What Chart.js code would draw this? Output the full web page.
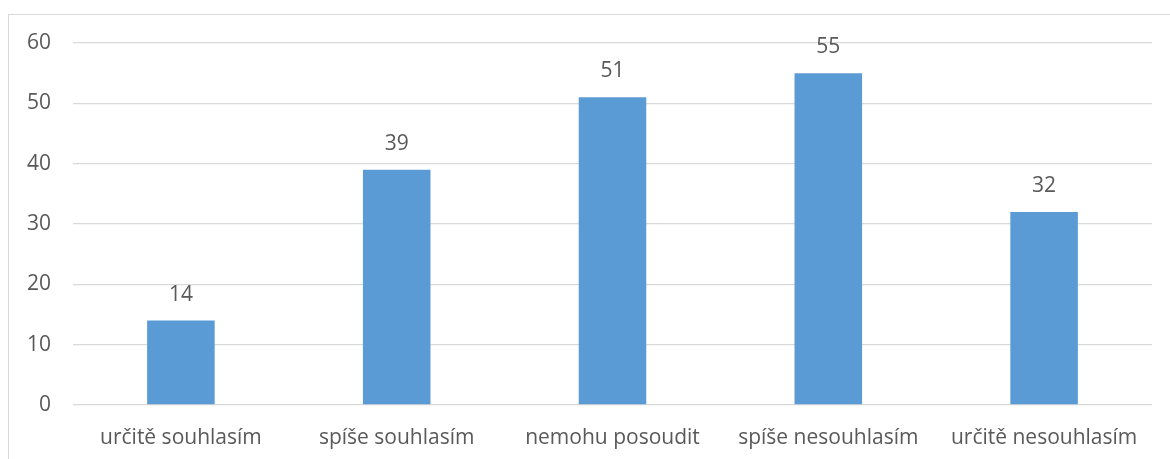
<!DOCTYPE html>
<html>
<head>
<meta charset="utf-8">
<script src="https://cdn.jsdelivr.net/npm/chart.js@4.4.1/dist/chart.umd.min.js"></script>
<style>
  html, body { margin: 0; padding: 0; background: #fff; }
  #wrap { position: relative; width: 1170px; height: 459px; overflow: hidden; }
  #frame { position: absolute; left: 8px; top: 14px; width: 1200px; height: 500px; border: 1px solid #d9d9d9; box-sizing: border-box; }
  canvas { position: absolute; left: 0; top: 0; }
</style>
</head>
<body>
<div id="wrap">
  <div id="frame"></div>
  <canvas id="c" width="1170" height="459"></canvas>
</div>
<script>
const categories = ["určitě souhlasím", "spíše souhlasím", "nemohu posoudit", "spíše nesouhlasím", "určitě nesouhlasím"];
const values = [14, 39, 51, 55, 32];
const yTicks = [0, 10, 20, 30, 40, 50, 60];

const FONT = "'Open Sans', 'Noto Sans', sans-serif";
const TEXT = "#595959";

const valueLabels = {
  id: 'valueLabels',
  afterDatasetsDraw(chart) {
    const ctx = chart.ctx;
    const meta = chart.getDatasetMeta(0);
    ctx.save();
    ctx.font = "21px " + FONT;
    ctx.fillStyle = TEXT;
    ctx.textAlign = 'center';
    ctx.textBaseline = 'middle';
    meta.data.forEach((bar, i) => {
      ctx.fillText(String(values[i]), bar.x, bar.y - 26);
    });
    ctx.restore();
  }
};

new Chart(document.getElementById('c'), {
  type: 'bar',
  data: {
    labels: categories,
    datasets: [{
      data: values,
      backgroundColor: '#5b9bd5',
      borderWidth: 0,
      categoryPercentage: 1,
      barPercentage: 0.313
    }]
  },
  options: {
    responsive: false,
    animation: false,
    devicePixelRatio: 1,
    layout: { padding: { left: 0, right: 18, top: 43, bottom: 0 } },
    plugins: { legend: { display: false }, tooltip: { enabled: false } },
    scales: {
      x: {
        grid: { display: false, drawTicks: false },
        border: { display: false },
        ticks: { color: TEXT, font: { family: FONT, size: 21 }, padding: 20, maxRotation: 0, autoSkip: false },
        afterFit(s) { s.height = 54; }
      },
      y: {
        min: 0, max: 60,
        afterBuildTicks(s) { s.ticks = yTicks.map(v => ({ value: v })); },
        grid: { color: '#d9d9d9', lineWidth: 1.3, drawTicks: false },
        border: { display: false },
        ticks: { color: TEXT, font: { family: FONT, size: 21 }, padding: 22 },
        afterFit(s) { s.width = 73; }
      }
    }
  },
  plugins: [valueLabels]
});
</script>
</body>
</html>
